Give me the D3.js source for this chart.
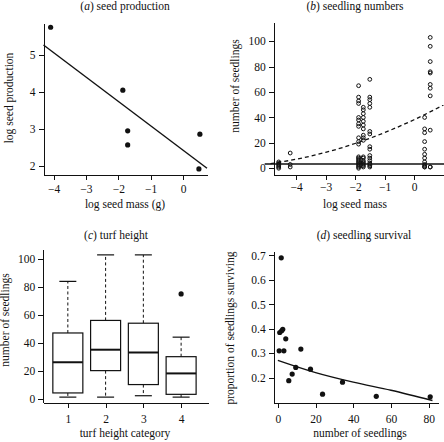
<!DOCTYPE html>
<html><head><meta charset="utf-8">
<script src="https://cdn.jsdelivr.net/npm/d3@7"></script>
<style>body{margin:0;background:#fff}</style>
</head><body>
<script>
// ---------- DATA ----------
// (a) seed production
const massA = [-4.09, -1.86, -1.71, -1.71, 0.52, 0.49];
const prodA = [5.75, 4.05, 2.95, 2.57, 2.86, 1.92];
const fitAx = [-4.31, 0.74];
const fitAy = [5.27, 1.94];
const ticksAx = [-4, -3, -2, -1, 0];
const ticksAy = [2, 3, 4, 5];

// (b) seedling numbers (one column of counts per species seed mass)
const massB = [-4.59, -4.2, -1.88, -1.72, -1.5, 0.36, 0.55];
const countsB = [
  [0, 1, 2, 3, 4, 5],
  [12, 3, 1],
  [65, 56, 53, 51, 40, 38, 35, 33, 24, 21, 19, 9, 8, 7, 6, 5, 4, 3, 2, 1, 0],
  [48, 46, 43, 40, 37, 34, 31, 26, 24, 22, 9, 8, 6, 5, 4, 3, 2, 1],
  [70, 56, 54, 51, 48, 29, 27, 17, 15, 10, 8, 6, 4, 3, 2, 1],
  [40, 31, 28, 21, 15, 11, 8, 5, 3, 2, 1, 1],
  [103, 96, 84, 76, 75, 66, 63, 57, 30, 1, 1]
];
const hLineB = 3.4;
const fitBx = [-4.87, -4, -3, -2, -1, 0, 1];
const fitBy = [3.6, 7.1, 12.5, 19.5, 28.1, 38.2, 49.8];
const ticksBx = [-4, -3, -2, -1, 0];
const ticksBy = [0, 20, 40, 60, 80, 100];

// (c) turf height boxplots
const turfCats = [1, 2, 3, 4];
const whiskLo = [1, 1, 2, 1];
const q1 = [4, 20, 10, 3];
const med = [26, 35, 33, 18];
const q3 = [47, 56, 54, 30];
const whiskHi = [84, 103, 103, 44];
const outCat = [4];
const outVal = [75];
const ticksCy = [0, 20, 40, 60, 80, 100];

// (d) seedling survival
const seedlingsD = [1.8, 0.7, 3.2, 1.0, 2.0, 2.6, 4.2, 12.2, 9.5, 7.6, 5.8, 17.3, 23.7, 34.3, 52.2, 80.8];
const survD = [0.69, 0.31, 0.31, 0.385, 0.392, 0.398, 0.359, 0.317, 0.242, 0.215, 0.188, 0.235, 0.133, 0.182, 0.124, 0.122];
const fitDx = [0, 20, 40, 60, 82];
const fitDy = [0.271, 0.221, 0.182, 0.149, 0.107];
const ticksDx = [0, 20, 40, 60, 80];
const ticksDy = [0.2, 0.3, 0.4, 0.5, 0.6, 0.7];

// ---------- DRAW ----------
const FONT = "'Liberation Serif','Times New Roman',serif";
const svg = d3.select("body").append("svg")
  .attr("width", 444).attr("height", 442)
  .style("font-family", FONT);
svg.append("rect").attr("width", 444).attr("height", 442).attr("fill", "#fff");

function axes(x, y, xt, yt, xfmt, yfmt, xpad) {
  const gx = svg.append("g").attr("transform", `translate(0,${y.range()[0]})`)
    .call(d3.axisBottom(x).tickValues(xt).tickSize(5).tickPadding(xpad).tickSizeOuter(0).tickFormat(xfmt));
  const gy = svg.append("g").attr("transform", `translate(${x.range()[0]},0)`)
    .call(d3.axisLeft(y).tickValues(yt).tickSize(5).tickPadding(3).tickSizeOuter(0).tickFormat(yfmt));
  [gx, gy].forEach(g => {
    g.attr("font-family", FONT).attr("font-size", 11.5);
    g.selectAll("text").attr("fill", "#111");
    g.selectAll("path,line").attr("stroke", "#111").attr("shape-rendering", "crispEdges");
  });
}
function title(cx, by, letter, rest) {
  const t = svg.append("text").attr("x", cx).attr("y", by).attr("text-anchor", "middle")
    .attr("font-size", 11.5).attr("fill", "#111");
  t.append("tspan").text("(");
  t.append("tspan").attr("font-style", "italic").text(letter);
  t.append("tspan").text(") " + rest);
}
function xlab(cx, by, s) {
  svg.append("text").attr("x", cx).attr("y", by).attr("text-anchor", "middle")
    .attr("font-size", 11.5).attr("fill", "#111").text(s);
}
function ylab(bx, cy, s) {
  svg.append("text").attr("transform", `translate(${bx},${cy}) rotate(-90)`)
    .attr("text-anchor", "middle").attr("font-size", 11.5).attr("fill", "#111").text(s);
}
const fmtInt = d3.format("d");

// Panel (a)
{
  const x = d3.scaleLinear().domain([-4.31, 0.74]).range([43.5, 207]);
  const y = d3.scaleLinear().domain([1.757, 5.865]).range([175, 23]);
  axes(x, y, ticksAx, ticksAy, fmtInt, fmtInt, 5);
  svg.append("path").datum(d3.zip(fitAx, fitAy))
    .attr("d", d3.line().x(d => x(d[0])).y(d => y(d[1])))
    .attr("fill", "none").attr("stroke", "#111").attr("stroke-width", 1.4);
  svg.append("g").selectAll("circle").data(d3.zip(massA, prodA)).join("circle")
    .attr("cx", d => x(d[0])).attr("cy", d => y(d[1])).attr("r", 2.6).attr("fill", "#111");
  title(125, 10, "a", "seed production");
  xlab(125, 208, "log seed mass (g)");
  ylab(13, 98, "log seed production");
}

// Panel (b)
{
  const x = d3.scaleLinear().domain([-4.76, 1.0]).range([273.7, 443.5]);
  const y = d3.scaleLinear().domain([-5.3, 114.6]).range([175, 22.7]);
  axes(x, y, ticksBx, ticksBy, fmtInt, fmtInt, 3);
  const pts = [];
  massB.forEach((m, i) => countsB[i].forEach(v => pts.push([m, v])));
  svg.append("g").selectAll("circle").data(pts).join("circle")
    .attr("cx", d => x(d[0])).attr("cy", d => y(d[1])).attr("r", 1.9)
    .attr("fill", "none").attr("stroke", "#111").attr("stroke-width", 1);
  svg.append("line").attr("x1", x.range()[0] - 9).attr("x2", 444)
    .attr("y1", y(hLineB)).attr("y2", y(hLineB))
    .attr("stroke", "#111").attr("stroke-width", 1.4);
  svg.append("path").datum(d3.zip(fitBx, fitBy))
    .attr("d", d3.line().x(d => x(d[0])).y(d => y(d[1])).curve(d3.curveMonotoneX))
    .attr("fill", "none").attr("stroke", "#111").attr("stroke-width", 1.3)
    .attr("stroke-dasharray", "4,3");
  title(355, 10, "b", "seedling numbers");
  xlab(355, 208, "log seed mass");
  ylab(239, 86, "number of seedlings");
}

// Panel (c)
{
  const x = d3.scaleLinear().domain([0.35, 4.72]).range([43.3, 208.3]);
  const y = d3.scaleLinear().domain([-3, 107]).range([402.7, 249.3]);
  axes(x, y, turfCats, ticksCy, fmtInt, fmtInt, 7);
  const bw = 15, cw = 8.5;
  const g = svg.append("g");
  turfCats.forEach((c, i) => {
    const cx = x(c);
    g.append("line").attr("x1", cx).attr("x2", cx).attr("y1", y(q3[i])).attr("y2", y(whiskHi[i]))
      .attr("stroke", "#111").attr("stroke-dasharray", "3,2.5");
    g.append("line").attr("x1", cx).attr("x2", cx).attr("y1", y(q1[i])).attr("y2", y(whiskLo[i]))
      .attr("stroke", "#111").attr("stroke-dasharray", "3,2.5");
    [whiskHi[i], whiskLo[i]].forEach(v => g.append("line")
      .attr("x1", cx - cw).attr("x2", cx + cw).attr("y1", y(v)).attr("y2", y(v))
      .attr("stroke", "#111").attr("stroke-width", 1.2));
    g.append("rect").attr("x", cx - bw).attr("width", 2 * bw)
      .attr("y", y(q3[i])).attr("height", y(q1[i]) - y(q3[i]))
      .attr("fill", "#fff").attr("stroke", "#111").attr("stroke-width", 1.2);
    g.append("line").attr("x1", cx - bw).attr("x2", cx + bw).attr("y1", y(med[i])).attr("y2", y(med[i]))
      .attr("stroke", "#111").attr("stroke-width", 2);
  });
  g.selectAll("circle.o").data(d3.zip(outCat, outVal)).join("circle")
    .attr("cx", d => x(d[0])).attr("cy", d => y(d[1])).attr("r", 2.6).attr("fill", "#111");
  title(116, 239, "c", "turf height");
  xlab(125, 437, "turf height category");
  ylab(9, 320, "number of seedlings");
}

// Panel (d)
{
  const x = d3.scaleLinear().domain([-2.2, 85.3]).range([273.7, 438.7]);
  const y = d3.scaleLinear().domain([0.098, 0.718]).range([402.7, 251]);
  axes(x, y, ticksDx, ticksDy, fmtInt, d3.format(".1f"), 7);
  svg.append("path").datum(d3.zip(fitDx, fitDy))
    .attr("d", d3.line().x(d => x(d[0])).y(d => y(d[1])).curve(d3.curveMonotoneX))
    .attr("fill", "none").attr("stroke", "#111").attr("stroke-width", 1.4);
  svg.append("g").selectAll("circle").data(d3.zip(seedlingsD, survD)).join("circle")
    .attr("cx", d => x(d[0])).attr("cy", d => y(d[1])).attr("r", 2.6).attr("fill", "#111");
  title(364, 239, "d", "seedling survival");
  xlab(360, 437, "number of seedlings");
  ylab(234, 328, "proportion of seedlings surviving");
}
</script>
</body></html>
